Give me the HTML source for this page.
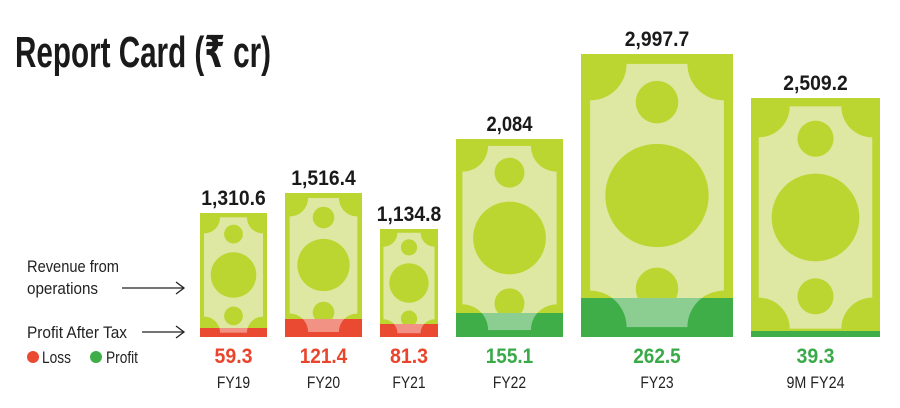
<!DOCTYPE html>
<html><head><meta charset="utf-8"><style>
html,body{margin:0;padding:0;background:#fff;}
svg{display:block}
text{font-family:"Liberation Sans","DejaVu Sans",sans-serif;}
</style></head><body>
<svg id="s" width="900" height="408" viewBox="0 0 900 408" xmlns="http://www.w3.org/2000/svg">
<rect width="900" height="408" fill="#fff"/>
<text x="15" y="67" font-size="44" font-weight="bold" fill="#1a1a1a" textLength="256" lengthAdjust="spacingAndGlyphs">Report Card (₹ cr)</text>
<g font-size="17" fill="#222">
<text x="27" y="272" textLength="92" lengthAdjust="spacingAndGlyphs">Revenue from</text>
<text x="27" y="294" textLength="71" lengthAdjust="spacingAndGlyphs">operations</text>
<text x="27" y="338" textLength="100" lengthAdjust="spacingAndGlyphs">Profit After Tax</text>
<text x="42" y="363" textLength="29" lengthAdjust="spacingAndGlyphs">Loss</text>
<text x="106" y="363" textLength="32" lengthAdjust="spacingAndGlyphs">Profit</text>
</g>
<circle cx="33" cy="357" r="6" fill="#ea4a32"/>
<circle cx="96" cy="357" r="6" fill="#3fae49"/>
<g stroke="#222" stroke-width="1.3" fill="none">
<line x1="122" y1="288" x2="184" y2="288"/><polyline points="176,282 184,288 176,294"/>
<line x1="142" y1="332" x2="184" y2="332"/><polyline points="176,326 184,332 176,338"/>
</g>
<g id="bills"></g>
</svg>
<script>
var data=[
[200,267,213,328,"1,310.6","59.3","FY19",0],
[285,362,193,319,"1,516.4","121.4","FY20",0],
[380,438,229,324,"1,134.8","81.3","FY21",0],
[456,563,139,313,"2,084","155.1","FY22",1],
[581,733,54,298,"2,997.7","262.5","FY23",1],
[751,880,98,331,"2,509.2","39.3","9M FY24",1]];
var B=337,h='';
data.forEach(function(d,i){
var x0=d[0],x1=d[1],t=d[2],bt=d[3],w=x1-x0,H=B-t,cx=(x0+x1)/2;
var ins=w*0.06,iy=H*0.035,rc=w*0.24,rs=w*0.14,rb=w*0.34;
var ix0=x0+ins,ix1=x1-ins,iy0=t+iy,iy1=B-iy;
var band=d[7]?'#3fae49':'#ea4a32';
var inner='<rect x="'+ix0+'" y="'+iy0+'" width="'+(ix1-ix0)+'" height="'+(iy1-iy0)+'"/>';
var cuts='<circle cx="'+ix0+'" cy="'+iy0+'" r="'+rc+'"/><circle cx="'+ix1+'" cy="'+iy0+'" r="'+rc+'"/><circle cx="'+ix0+'" cy="'+iy1+'" r="'+rc+'"/><circle cx="'+ix1+'" cy="'+iy1+'" r="'+rc+'"/>';
var circ='<circle cx="'+cx+'" cy="'+(t+H*0.17)+'" r="'+rs+'"/><circle cx="'+cx+'" cy="'+(t+H*0.5)+'" r="'+rb+'"/><circle cx="'+cx+'" cy="'+(t+H*0.83)+'" r="'+rs+'"/>';
h+='<defs><clipPath id="c'+i+'"><rect x="'+x0+'" y="'+t+'" width="'+w+'" height="'+H+'"/></clipPath>'+
'<mask id="m'+i+'"><rect x="'+x0+'" y="'+t+'" width="'+w+'" height="'+H+'" fill="#000"/><g fill="#fff">'+inner+'</g><g fill="#000">'+cuts+'</g></mask></defs>';
h+='<g clip-path="url(#c'+i+')">';
h+='<rect x="'+x0+'" y="'+t+'" width="'+w+'" height="'+H+'" fill="#bcd631"/>';
h+='<g fill="#dfe8a2">'+inner+'</g><g fill="#bcd631">'+cuts+circ+'</g>';
h+='<rect x="'+x0+'" y="'+bt+'" width="'+w+'" height="'+(B-bt)+'" fill="'+band+'"/>';
h+='<rect x="'+x0+'" y="'+bt+'" width="'+w+'" height="'+(B-bt)+'" fill="#fff" opacity="0.4" mask="url(#m'+i+')"/>';
h+='</g>';
var lw=d[4].length*9.2;
h+='<text x="'+cx+'" y="'+(t-8)+'" text-anchor="middle" font-size="21" font-weight="bold" fill="#1a1a1a" textLength="'+lw+'" lengthAdjust="spacingAndGlyphs">'+d[4]+'</text>';
h+='<text x="'+cx+'" y="363" text-anchor="middle" font-size="21" font-weight="bold" fill="'+(d[7]?'#3aaa49':'#e8452c')+'" textLength="'+(d[5].length*9.5)+'" lengthAdjust="spacingAndGlyphs">'+d[5]+'</text>';
h+='<text x="'+cx+'" y="388" text-anchor="middle" font-size="17" fill="#222" textLength="'+(d[6].length*8.3)+'" lengthAdjust="spacingAndGlyphs">'+d[6]+'</text>';
});
document.getElementById('bills').innerHTML=h;
</script>
</body></html>
